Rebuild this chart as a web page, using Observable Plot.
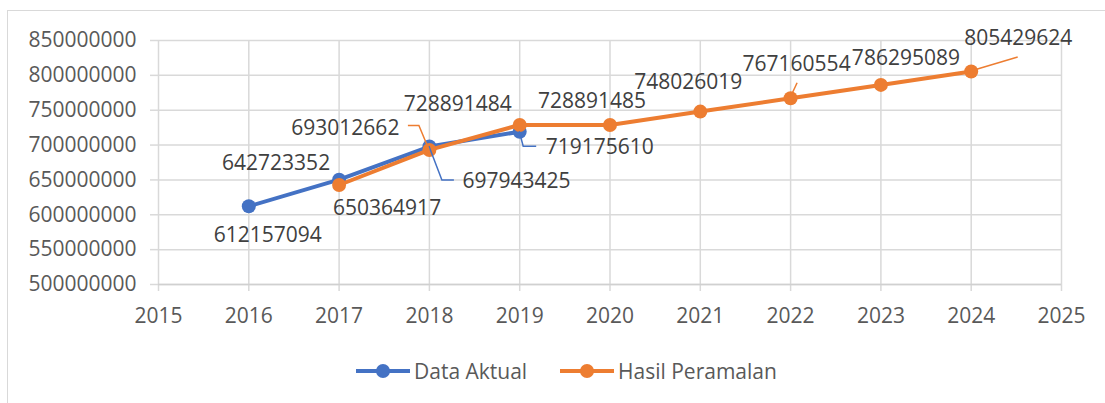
<!DOCTYPE html>
<html><head><meta charset="utf-8">
<script src="https://cdn.jsdelivr.net/npm/d3@7"></script>
<script src="https://cdn.jsdelivr.net/npm/@observablehq/plot@0.6"></script>
<style>
body{margin:0;background:#fff;font-family:"Open Sans",sans-serif;}
#wrap{position:relative;width:1105px;height:403px;overflow:hidden;background:#fff;}
#frame{position:absolute;left:7px;top:10px;width:1300px;height:600px;border:1.5px solid #d9d9d9;box-sizing:border-box;}
#chart{position:absolute;left:0;top:0;}
#legend{position:absolute;left:0;top:340px;width:1105px;height:63px;}
.item{position:absolute;top:18px;height:26px;display:flex;align-items:center;font-size:21px;color:#595959;font-family:"Open Sans",sans-serif;}
</style></head>
<body>
<div id="wrap"><div id="frame"></div><div id="chart"></div><div id="legend"></div></div>
<script>
// ---- data ----
const aktualYears = [2016, 2017, 2018, 2019];
const aktualValues = [612157094, 650364917, 697943425, 719175610];
const ramalYears = [2017, 2018, 2019, 2020, 2021, 2022, 2023, 2024];
const ramalValues = [642723352, 693012662, 728891484, 728891485, 748026019, 767160554, 786295089, 805429624];
const xTicks = [2015, 2016, 2017, 2018, 2019, 2020, 2021, 2022, 2023, 2024, 2025];
const yTicks = [500000000, 550000000, 600000000, 650000000, 700000000, 750000000, 800000000, 850000000];
const seriesNames = ["Data Aktual", "Hasil Peramalan"];
const seriesColors = ["#4472C4", "#ED7D31"];

// ---- label layout (pixel offsets from each point) ----
const aktualLabelLayout = [
  {dx: 19, dy: 29, anchor: "middle"},
  {dx: 48, dy: 29, anchor: "middle"},
  {dx: 33, dy: 35, anchor: "start", leader: [[0,0],[13,34],[25,34]]},
  {dx: 26, dy: 16, anchor: "start", leader: [[0,0],[4,15],[17,15]]}
];
const ramalLabelLayout = [
  {dx: -63, dy: -22, anchor: "middle"},
  {dx: -30, dy: -22, anchor: "end", leader: [[0,0],[-10,-24],[-21,-24]]},
  {dx: -62, dy: -21, anchor: "middle"},
  {dx: -18, dy: -24, anchor: "middle"},
  {dx: -12, dy: -29, anchor: "middle"},
  {dx: 6, dy: -34, anchor: "middle", leader: [[0,0],[7,-15]]},
  {dx: 25, dy: -27, anchor: "middle"},
  {dx: 47, dy: -33, anchor: "middle", leader: [[0,0],[47,-14]]}
];

const aktual = aktualYears.map((y, i) => ({year: y, value: aktualValues[i], ...aktualLabelLayout[i]}));
const ramal = ramalYears.map((y, i) => ({year: y, value: ramalValues[i], ...ramalLabelLayout[i]}));

const labelMarks = (arr, color) => arr.map(d => Plot.text([d], {
  x: "year", y: "value", text: d => String(d.value),
  dx: d.dx, dy: d.dy, textAnchor: d.anchor,
  fill: "#404040", fontSize: 21
}));

const plot = Plot.plot({
  width: 1105, height: 340,
  marginLeft: 158, marginRight: 44, marginTop: 40, marginBottom: 56,
  style: {fontFamily: "'Open Sans', sans-serif", fontSize: "21px", background: "transparent", color: "#595959"},
  x: {type: "linear", domain: [2015, 2025]},
  y: {domain: [500000000, 850000000]},
  marks: [
    Plot.gridX(xTicks, {stroke: "#d9d9d9", strokeOpacity: 1, strokeWidth: 1.5}),
    Plot.gridY(yTicks, {stroke: "#d9d9d9", strokeOpacity: 1, strokeWidth: 1.5}),
    Plot.axisX(xTicks, {tickSize: 7, tickPadding: 17, stroke: "#d9d9d9", fill: "#595959", strokeWidth: 1.5, tickFormat: d => String(d), label: null}),
    Plot.axisY(yTicks, {tickSize: 8, tickPadding: 14, stroke: "#d9d9d9", fill: "#595959", strokeWidth: 1.5, tickFormat: d => String(d), label: null}),
    Plot.ruleY([500000000], {stroke: "#d0d0d0", strokeWidth: 1.5}),
    Plot.line(aktual, {x: "year", y: "value", stroke: seriesColors[0], strokeWidth: 4}),
    Plot.dot(aktual, {x: "year", y: "value", r: 7, fill: seriesColors[0]}),
    Plot.line(ramal, {x: "year", y: "value", stroke: seriesColors[1], strokeWidth: 4}),
    Plot.dot(ramal, {x: "year", y: "value", r: 7, fill: seriesColors[1]}),
    ...labelMarks(aktual),
    ...labelMarks(ramal)
  ]
});

// leader lines using plot scales
const xs = plot.scale("x"), ys = plot.scale("y");
const svg = d3.select(plot);
[[aktual, seriesColors[0]], [ramal, seriesColors[1]]].forEach(([arr, color]) => {
  arr.filter(d => d.leader).forEach(d => {
    const px = xs.apply(d.year), py = ys.apply(d.value);
    svg.append("path")
      .attr("d", d3.line()(d.leader.map(([a, b]) => [px + a, py + b])))
      .attr("fill", "none").attr("stroke", color).attr("stroke-width", 1.5);
  });
});

document.getElementById("chart").appendChild(plot);

// legend
const legend = d3.select("#legend");
const legendPos = [356, 560];
seriesNames.forEach((name, i) => {
  const item = legend.append("div").attr("class", "item").style("left", legendPos[i] + "px");
  const s = item.append("svg").attr("width", 54).attr("height", 26);
  s.append("line").attr("x1", 0).attr("x2", 54).attr("y1", 13).attr("y2", 13).attr("stroke", seriesColors[i]).attr("stroke-width", 4);
  s.append("circle").attr("cx", 27).attr("cy", 13).attr("r", 7).attr("fill", seriesColors[i]);
  item.append("span").style("margin-left", "4px").text(name);
});
</script>
</body></html>
